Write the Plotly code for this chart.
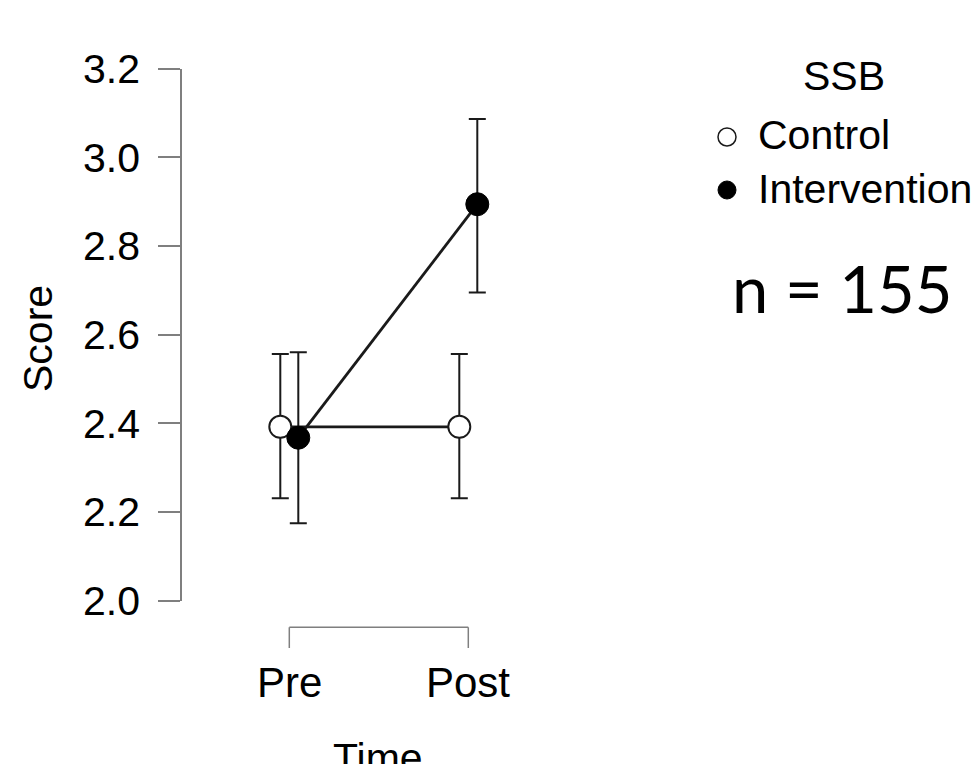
import plotly.graph_objects as go

# ---- data ----
time_labels = ["Pre", "Post"]
time_pos = [0, 1]
groups = ["Control", "Intervention"]
control_mean = [2.392, 2.392]
control_err_up = [0.164, 0.164]
control_err_down = [0.161, 0.161]
intervention_mean = [2.3675, 2.894]
intervention_err_up = [0.1925, 0.192]
intervention_err_down = [0.193, 0.199]
y_ticks = [2.0, 2.2, 2.4, 2.6, 2.8, 3.0, 3.2]
y_ticktext = ["2.0", "2.2", "2.4", "2.6", "2.8", "3.0", "3.2"]

W, H = 978, 764
FONT = "Liberation Sans, Arial, Helvetica, sans-serif"
FS = 41
INK = "#1a1a1a"
AXC = "#7f7f7f"

# layout geometry (pixels)
plot_left, plot_right = 182, 600
y_top, y_bot = 68.5, 600.7
pre_px, post_px = 289.3, 468.3
ppu = post_px - pre_px
dodge = 9.0 / ppu
x_lo = -(pre_px - plot_left) / ppu
x_hi = 1 + (plot_right - post_px) / ppu


def px(x):
    return x / W


def py(y):
    return 1 - y / H


fig = go.Figure()

fig.add_trace(go.Scatter(
    x=[t - dodge for t in time_pos], y=control_mean,
    mode="lines+markers", name=groups[0], showlegend=False, cliponaxis=False,
    line=dict(color=INK, width=2.8),
    marker=dict(symbol="circle", size=22, color="white", line=dict(color=INK, width=2)),
    error_y=dict(type="data", symmetric=False, array=control_err_up, arrayminus=control_err_down,
                 color=INK, thickness=2, width=8.5),
))
fig.add_trace(go.Scatter(
    x=[t + dodge for t in time_pos], y=intervention_mean,
    mode="lines+markers", name=groups[1], showlegend=False, cliponaxis=False,
    line=dict(color=INK, width=2.8),
    marker=dict(symbol="circle", size=23, color="black", line=dict(color="black", width=1)),
    error_y=dict(type="data", symmetric=False, array=intervention_err_up, arrayminus=intervention_err_down,
                 color=INK, thickness=2, width=8.5),
))

fig.update_layout(
    width=W, height=H,
    margin=dict(l=0, r=0, t=0, b=0, autoexpand=False),
    paper_bgcolor="white", plot_bgcolor="rgba(0,0,0,0)",
    showlegend=False,
    font=dict(family=FONT, color="black", size=FS),
    xaxis=dict(domain=[px(plot_left), px(plot_right)], range=[x_lo, x_hi],
               visible=False, fixedrange=True),
    yaxis=dict(domain=[py(y_bot), py(y_top)], range=[2.0, 3.2],
               showline=True, linecolor=AXC, linewidth=1.5,
               ticks="outside", ticklen=22, tickwidth=1.5, tickcolor=AXC,
               tickvals=y_ticks, ticktext=y_ticktext, showgrid=False, zeroline=False,
               tickfont=dict(size=FS, family=FONT, color="black"), ticklabelstandoff=10),
)

# x-axis bracket (R-style) drawn in data x coordinates
br_y, br_tick = 627.3, 648
fig.add_shape(type="line", xref="x", yref="paper", x0=time_pos[0], x1=time_pos[-1],
              y0=py(br_y), y1=py(br_y), line=dict(color=AXC, width=1.5))
for t, lab in zip(time_pos, time_labels):
    fig.add_shape(type="line", xref="x", yref="paper", x0=t, x1=t,
                  y0=py(br_y), y1=py(br_tick), line=dict(color=AXC, width=1.5))
    fig.add_annotation(text=lab, x=t, y=py(682), xref="x", yref="paper",
                       showarrow=False, font=dict(size=42, family=FONT),
                       xanchor="center", yanchor="middle")

# axis titles
fig.add_annotation(text="Score", x=px(38), y=py(339), xref="paper", yref="paper",
                   textangle=-90, showarrow=False, font=dict(size=FS, family=FONT),
                   xanchor="center", yanchor="middle")
fig.add_annotation(text="Time", x=px(378), y=py(758), xref="paper", yref="paper",
                   showarrow=False, font=dict(size=FS, family=FONT),
                   xanchor="center", yanchor="middle")

# legend
fig.add_annotation(text="SSB", x=px(844), y=py(76), xref="paper", yref="paper",
                   showarrow=False, font=dict(size=FS, family=FONT),
                   xanchor="center", yanchor="middle")
fig.add_annotation(text=groups[0], x=px(756), y=py(135), xref="paper", yref="paper",
                   showarrow=False, font=dict(size=FS, family=FONT),
                   xanchor="left", yanchor="middle")
fig.add_annotation(text=groups[1], x=px(756), y=py(189), xref="paper", yref="paper",
                   showarrow=False, font=dict(size=FS, family=FONT),
                   xanchor="left", yanchor="middle")
r = 9
fig.add_shape(type="circle", xref="paper", yref="paper",
              x0=px(727 - r), x1=px(727 + r), y0=py(137 + r), y1=py(137 - r),
              line=dict(color=INK, width=1.5), fillcolor="white")
fig.add_shape(type="circle", xref="paper", yref="paper",
              x0=px(727 - r), x1=px(727 + r), y0=py(190 + r), y1=py(190 - r),
              line=dict(color="black", width=1), fillcolor="black")

# sample size note
fig.add_annotation(text="n = 155", x=px(730), y=py(288), xref="paper", yref="paper",
                   showarrow=False, font=dict(size=65, family="Lato, Open Sans, sans-serif"),
                   xanchor="left", yanchor="middle")

fig.write_html("out.html", config={"displayModeBar": False},
               post_script="document.body.style.margin='0px';")
